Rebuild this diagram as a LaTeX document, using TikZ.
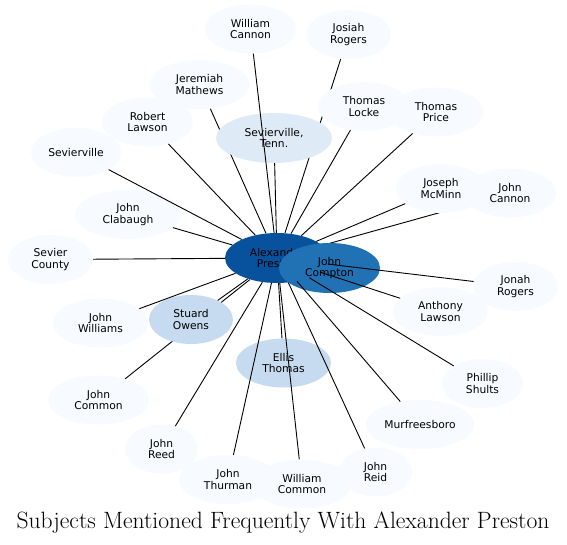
\documentclass[tikz,border=0pt]{standalone}
\usepackage{fontspec}
\newfontfamily\nodefont{DejaVu Sans}
\usetikzlibrary{shapes.geometric,backgrounds}
\definecolor{cA}{HTML}{F7FBFF}
\definecolor{cB}{HTML}{DEEBF7}
\definecolor{cC}{HTML}{C6DBEF}
\definecolor{cD}{HTML}{2171B5}
\definecolor{cE}{HTML}{08519C}
\tikzset{
  nd/.style={ellipse, fill=cA, draw=none, inner sep=0pt, minimum height=49bp,
    align=center, text=black, font=\nodefont\fontsize{10.7bp}{11.7bp}\selectfont},
  edge/.style={draw=black, line width=0.9bp},
}
\begin{document}
\begin{tikzpicture}[x=1bp, y=-1bp]
\useasboundingbox (0,0) rectangle (567,545);
\begin{scope}[on background layer]
\fill[white] (0,0) rectangle (567,545);
\end{scope}
% nodes
\node[nd, fill=cE, minimum width=104bp, minimum height=50bp] (ap) at (277,258) {Alexander\\Preston};
\node[nd, fill=cD, minimum width=101bp, minimum height=50bp] (jc) at (329.5,268) {John\\Compton};
\node[nd, minimum width=91bp] (wc) at (250.5,29) {William\\Cannon};
\node[nd, minimum width=85bp] (jr) at (348.5,34.5) {Josiah\\Rogers};
\node[nd, minimum width=100bp] (jm) at (199.5,84.5) {Jeremiah\\Mathews};
\node[nd, minimum width=94bp] (tp) at (436,112) {Thomas\\Price};
\node[nd, minimum width=92bp] (tl) at (364,106.5) {Thomas\\Locke};
\node[nd, minimum width=91bp] (rl) at (147.5,122) {Robert\\Lawson};
\node[nd, fill=cB, minimum width=116bp, minimum height=50bp] (st) at (274,138) {Sevierville,\\Tenn.};
\node[nd, minimum width=90bp] (sv) at (76,152.5) {Sevierville};
\node[nd, minimum width=92bp] (jcn) at (510,193) {John\\Cannon};
\node[nd, minimum width=90bp] (jmm) at (441,188.5) {Joseph\\McMinn};
\node[nd, minimum width=106bp] (jcl) at (128,214.5) {John\\Clabaugh};
\node[nd, minimum width=85bp] (sc) at (50.5,259.5) {Sevier\\County};
\node[nd, minimum width=85bp] (jon) at (515.5,286.5) {Jonah\\Rogers};
\node[nd, minimum width=95bp] (al) at (440.5,311.5) {Anthony\\Lawson};
\node[nd, minimum width=95bp] (jw) at (100.5,323) {John\\Williams};
\node[nd, fill=cC, minimum width=84bp] (so) at (191,319.5) {Stuard\\Owens};
\node[nd, fill=cC, minimum width=95bp] (et) at (283.5,363) {Ellis\\Thomas};
\node[nd, minimum width=81bp] (ps) at (482.5,383.5) {Phillip\\Shults};
\node[nd, minimum width=101bp] (jco) at (98.5,400) {John\\Common};
\node[nd, minimum width=108bp] (mu) at (420,424.5) {Murfreesboro};
\node[nd, minimum width=73bp] (jre) at (161.5,449) {John\\Reed};
\node[nd, minimum width=98bp] (jt) at (228,479.5) {John\\Thurman};
\node[nd, minimum width=98bp] (wco) at (302,484) {William\\Common};
\node[nd, minimum width=73bp] (jri) at (375.5,472) {John\\Reid};
% edges hidden beneath other nodes
\begin{scope}[on background layer]
\draw[edge] (ap) -- (jr);
\draw[edge] (ap) -- (jm);
\draw[edge] (ap) -- (jcn);
\draw[edge] (ap) -- (jco);
\end{scope}
% edges drawn over nodes
\draw[edge] (ap) -- (wc);
\draw[edge] (ap) -- (tl);
\draw[edge] (ap) -- (tp);
\draw[edge] (ap) -- (rl);
\draw[edge] (ap) -- (st);
\draw[edge] (ap) -- (sv);
\draw[edge] (ap) -- (jmm);
\draw[edge] (ap) -- (jcl);
\draw[edge] (ap) -- (sc);
\draw[edge] (ap) -- (jon);
\draw[edge] (ap) -- (al);
\draw[edge] (ap) -- (jw);
\draw[edge] (ap) -- (so);
\draw[edge] (ap) -- (et);
\draw[edge] (ap) -- (ps);
\draw[edge] (ap) -- (mu);
\draw[edge] (ap) -- (jre);
\draw[edge] (ap) -- (jt);
\draw[edge] (ap) -- (wco);
\draw[edge] (ap) -- (jri);
% title
\node[font=\fontsize{23.6bp}{26bp}\selectfont, inner sep=0pt, anchor=base] (title) at (283,528) {Subjects Mentioned Frequently With Alexander Preston};
\end{tikzpicture}
\end{document}
